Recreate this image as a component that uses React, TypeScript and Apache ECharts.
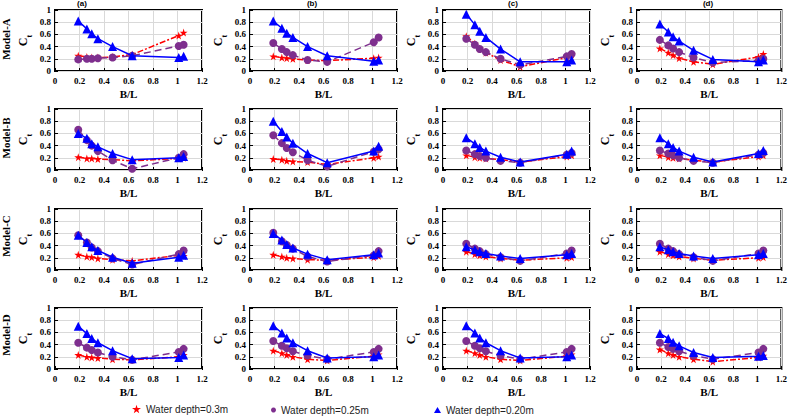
import React, { useEffect, useRef } from "react";
import * as echarts from "echarts";

// B/L positions
const BL = [0.19, 0.26, 0.3, 0.35, 0.47, 0.63, 1.01, 1.05];

const colTitles = ["(a)", "(b)", "(c)", "(d)"];
const rowTitles = ["Model-A", "Model-B", "Model-C", "Model-D"];
const xTicks = [0, 0.2, 0.4, 0.6, 0.8, 1, 1.2];
const yTicks = [0, 0.2, 0.4, 0.6, 0.8, 1];

const legendNames = ["Water depth=0.3m", "Water depth=0.25m", "Water depth=0.20m"];

// Model-A: columns (a)..(d)
const modelA_d30 = [
  [0.25, 0.23, 0.22, 0.22, 0.23, 0.27, 0.58, 0.63],
  [0.24, 0.22, 0.21, 0.2, 0.18, 0.17, 0.21, 0.22],
  [0.57, 0.45, 0.37, 0.3, 0.18, 0.07, 0.22, 0.27],
  [0.37, 0.3, 0.26, 0.21, 0.15, 0.11, 0.23, 0.28],
];
const modelA_d25 = [
  [0.19, 0.2, 0.2, 0.21, 0.22, 0.25, 0.41, 0.43],
  [0.46, 0.36, 0.31, 0.26, 0.18, 0.15, 0.47, 0.55],
  [0.53, 0.43, 0.36, 0.31, 0.2, 0.1, 0.24, 0.28],
  [0.51, 0.42, 0.37, 0.31, 0.22, 0.14, 0.17, 0.2],
];
const modelA_d20 = [
  [0.82, 0.69, 0.61, 0.53, 0.4, 0.25, 0.22, 0.24],
  [0.82, 0.7, 0.62, 0.55, 0.4, 0.25, 0.16, 0.18],
  [0.93, 0.76, 0.65, 0.55, 0.36, 0.15, 0.15, 0.18],
  [0.77, 0.64, 0.56, 0.49, 0.34, 0.19, 0.15, 0.18],
];

// Model-B
const modelB_d30 = [
  [0.21, 0.19, 0.19, 0.18, 0.17, 0.15, 0.19, 0.2],
  [0.18, 0.17, 0.15, 0.14, 0.13, 0.09, 0.2, 0.22],
  [0.24, 0.21, 0.2, 0.19, 0.17, 0.13, 0.22, 0.24],
  [0.24, 0.21, 0.2, 0.19, 0.16, 0.13, 0.22, 0.24],
];
const modelB_d25 = [
  [0.66, 0.49, 0.4, 0.31, 0.16, 0.02, 0.2, 0.26],
  [0.57, 0.44, 0.36, 0.29, 0.16, 0.06, 0.3, 0.34],
  [0.32, 0.26, 0.23, 0.2, 0.15, 0.12, 0.25, 0.28],
  [0.32, 0.27, 0.24, 0.2, 0.15, 0.12, 0.25, 0.28],
];
const modelB_d20 = [
  [0.6, 0.52, 0.43, 0.38, 0.27, 0.17, 0.2, 0.22],
  [0.8, 0.63, 0.54, 0.44, 0.27, 0.12, 0.31, 0.39],
  [0.53, 0.43, 0.37, 0.31, 0.21, 0.13, 0.26, 0.31],
  [0.53, 0.43, 0.37, 0.31, 0.21, 0.13, 0.27, 0.32],
];

// Model-C
const modelC_d30 = [
  [0.25, 0.22, 0.21, 0.19, 0.17, 0.15, 0.24, 0.23],
  [0.25, 0.22, 0.2, 0.19, 0.17, 0.16, 0.21, 0.23],
  [0.3, 0.26, 0.24, 0.22, 0.19, 0.16, 0.2, 0.21],
  [0.3, 0.26, 0.24, 0.22, 0.19, 0.16, 0.2, 0.21],
];
const modelC_d25 = [
  [0.57, 0.45, 0.37, 0.31, 0.19, 0.09, 0.26, 0.32],
  [0.61, 0.47, 0.41, 0.35, 0.22, 0.14, 0.24, 0.31],
  [0.43, 0.35, 0.31, 0.26, 0.21, 0.15, 0.27, 0.32],
  [0.43, 0.35, 0.31, 0.26, 0.21, 0.15, 0.27, 0.32],
];
const modelC_d20 = [
  [0.57, 0.45, 0.38, 0.32, 0.21, 0.11, 0.21, 0.24],
  [0.6, 0.49, 0.42, 0.36, 0.26, 0.17, 0.25, 0.28],
  [0.38, 0.33, 0.3, 0.27, 0.23, 0.19, 0.25, 0.27],
  [0.38, 0.33, 0.3, 0.27, 0.23, 0.19, 0.25, 0.27],
];

// Model-D
const modelD_d30 = [
  [0.23, 0.2, 0.19, 0.18, 0.16, 0.15, 0.2, 0.23],
  [0.3, 0.26, 0.23, 0.2, 0.16, 0.14, 0.21, 0.24],
  [0.3, 0.26, 0.23, 0.2, 0.16, 0.14, 0.21, 0.24],
  [0.32, 0.26, 0.23, 0.2, 0.16, 0.12, 0.19, 0.22],
];
const modelD_d25 = [
  [0.43, 0.35, 0.31, 0.27, 0.2, 0.15, 0.28, 0.33],
  [0.46, 0.38, 0.34, 0.29, 0.22, 0.16, 0.28, 0.33],
  [0.46, 0.38, 0.34, 0.29, 0.22, 0.16, 0.28, 0.33],
  [0.43, 0.36, 0.33, 0.29, 0.22, 0.16, 0.27, 0.33],
];
const modelD_d20 = [
  [0.7, 0.58, 0.5, 0.43, 0.3, 0.17, 0.19, 0.23],
  [0.71, 0.59, 0.51, 0.43, 0.3, 0.18, 0.2, 0.23],
  [0.71, 0.59, 0.51, 0.43, 0.3, 0.18, 0.2, 0.23],
  [0.58, 0.5, 0.44, 0.38, 0.27, 0.19, 0.21, 0.22],
];

const d30Rows = [modelA_d30, modelB_d30, modelC_d30, modelD_d30];
const d25Rows = [modelA_d25, modelB_d25, modelC_d25, modelD_d25];
const d20Rows = [modelA_d20, modelB_d20, modelC_d20, modelD_d20];

const STAR = "path://M50,0 L61,35 L98,35 L68,57 L79,91 L50,70 L21,91 L32,57 L2,35 L39,35 Z";
const RED = "#ff0000";
const PURPLE = "#7e2f8e";
const BLUE = "#0000ff";

const SERIF = "'Liberation Serif', 'Times New Roman', serif";
const SANS = "'Liberation Sans', Arial, sans-serif";

const lefts = [55, 250, 443, 637];
const tops = [10, 109, 209, 308];
const W = 147;
const H = 61;
const titleX = [82, 312, 513, 708];
const rowLabelY = [39, 138, 236, 335];

export default function App() {
  const ref = useRef<HTMLDivElement>(null);

  useEffect(() => {
    if (!ref.current) return;
    const chart = echarts.init(ref.current, null, { renderer: "svg" });

    const grids: any[] = [];
    const xAxes: any[] = [];
    const yAxes: any[] = [];
    const series: any[] = [];

    for (let r = 0; r < 4; r++) {
      for (let c = 0; c < 4; c++) {
        const i = r * 4 + c;
        grids.push({
          left: lefts[c],
          top: tops[r],
          width: W,
          height: H,
          show: true,
          borderColor: "#000",
          borderWidth: 2,
          backgroundColor: "#fff",
          z: 0,
        });
        xAxes.push({
          type: "value",
          gridIndex: i,
          min: xTicks[0],
          max: xTicks[xTicks.length - 1],
          interval: 0.2,
          name: "B/L",
          nameLocation: "middle",
          nameGap: 17,
          nameTextStyle: { fontFamily: SERIF, fontWeight: "bold", fontSize: 11, color: "#000" },
          axisLine: { show: false },
          axisTick: { show: true, inside: true, length: 3, lineStyle: { color: "#000" } },
          axisLabel: { fontFamily: SERIF, fontWeight: "bold", fontSize: 9, color: "#000", margin: 5 },
          splitLine: { show: true, lineStyle: { color: "#d9d9d9", width: 1 } },
        });
        yAxes.push({
          type: "value",
          gridIndex: i,
          min: yTicks[0],
          max: yTicks[yTicks.length - 1],
          interval: 0.2,
          name: "{c|C}{t|t}",
          nameLocation: "middle",
          nameGap: 22,
          nameRotate: 90,
          nameTextStyle: {
            rich: {
              c: { fontFamily: SERIF, fontWeight: "bold", fontSize: 12, color: "#000", lineHeight: 16, verticalAlign: "top" },
              t: { fontFamily: SERIF, fontWeight: "bold", fontSize: 8, color: "#000", lineHeight: 16, verticalAlign: "bottom" },
            },
          },
          axisLine: { show: false },
          axisTick: { show: true, inside: true, length: 3, lineStyle: { color: "#000" } },
          axisLabel: { fontFamily: SERIF, fontWeight: "bold", fontSize: 9, color: "#000", margin: 4 },
          splitLine: { show: true, lineStyle: { color: "#d9d9d9", width: 1 } },
        });

        const mk = (name: string, vals: number[], color: string, symbol: string, size: number, type: any, z: number) => ({
          type: "line",
          name,
          xAxisIndex: i,
          yAxisIndex: i,
          data: BL.map((x, k) => [x, vals[k]]),
          symbol,
          symbolSize: size,
          showSymbol: true,
          lineStyle: { color, width: 1.5, type },
          itemStyle: { color, borderWidth: 0 },
          z,
        });
        series.push(mk(legendNames[0], d30Rows[r][c], RED, STAR, 8, [6, 2, 2, 2], 3));
        series.push(mk(legendNames[1], d25Rows[r][c], PURPLE, "circle", 8, [7, 4], 4));
        series.push(mk(legendNames[2], d20Rows[r][c], BLUE, "triangle", 9, "solid", 5));
      }
    }

    const graphics: any[] = [];
    colTitles.forEach((t, c) => {
      graphics.push({
        type: "text",
        x: titleX[c],
        y: 3,
        style: { text: t, fontFamily: SANS, fontWeight: "bold", fontSize: 8, fill: "#000", align: "center", verticalAlign: "middle" },
      });
    });
    rowTitles.forEach((t, r) => {
      graphics.push({
        type: "text",
        x: 6,
        y: rowLabelY[r],
        rotation: Math.PI / 2,
        style: { text: t, fontFamily: SERIF, fontWeight: "bold", fontSize: 11, fill: "#000", align: "center", verticalAlign: "middle" },
      });
    });

    const legendBase = {
      orient: "horizontal",
      padding: 0,
      itemGap: 4,
      textStyle: { fontFamily: SANS, fontSize: 10, color: "#222" },
      selectedMode: false,
    };

    chart.setOption({
      animation: false,
      backgroundColor: "#fff",
      grid: grids,
      xAxis: xAxes,
      yAxis: yAxes,
      series,
      graphic: graphics,
      legend: [
        { ...legendBase, left: 132, top: 404, itemWidth: 9, itemHeight: 9, data: [{ name: legendNames[0], icon: STAR }] },
        { ...legendBase, left: 271, top: 405, itemWidth: 5, itemHeight: 5, data: [{ name: legendNames[1], icon: "circle" }] },
        { ...legendBase, left: 434, top: 405, itemWidth: 7, itemHeight: 6, data: [{ name: legendNames[2], icon: "triangle" }] },
      ],
    });

    return () => chart.dispose();
  }, []);

  return (
    <div
      ref={ref}
      style={{ position: "fixed", left: 0, top: 0, width: 790, height: 420 }}
    />
  );
}
